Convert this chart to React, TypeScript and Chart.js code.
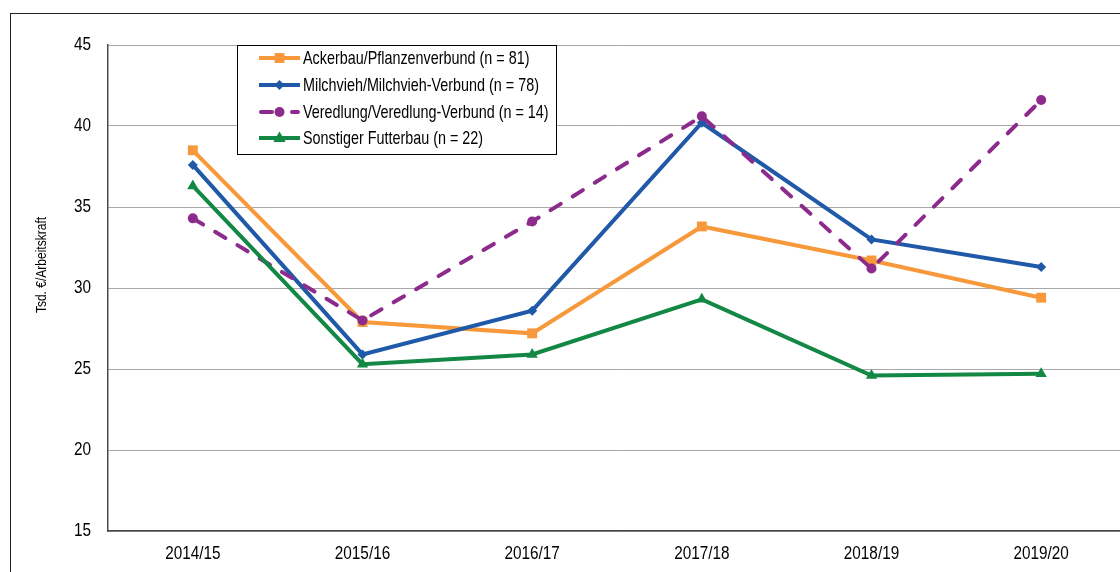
import React, { useEffect, useRef } from "react";
import { Chart, registerables } from "chart.js";
Chart.register(...registerables);

const categories = ["2014/15", "2015/16", "2016/17", "2017/18", "2018/19", "2019/20"];
const ackerbau = [38.5, 27.9, 27.2, 33.8, 31.7, 29.4];
const milchvieh = [37.6, 25.9, 28.6, 40.2, 33.0, 31.3];
const veredlung = [34.3, 28.0, 34.1, 40.6, 31.2, 41.6];
const futterbau = [36.3, 25.3, 25.9, 29.3, 24.6, 24.7];
const seriesLabels = [
  "Ackerbau/Pflanzenverbund (n = 81)",
  "Milchvieh/Milchvieh-Verbund (n = 78)",
  "Veredlung/Veredlung-Verbund (n = 14)",
  "Sonstiger Futterbau (n = 22)",
];
const yMin = 15;
const yMax = 45;
const yStep = 5;
const yTitle = "Tsd. €/Arbeitskraft";

const ORANGE = "#F7983A";
const BLUE = "#1F59A7";
const PURPLE = "#8C2B8B";
const GREEN = "#128844";
const FONT = "'Liberation Sans', Arial, sans-serif";
const NARROW = 0.82;

function narrowText(ctx: CanvasRenderingContext2D, text: string, x: number, y: number, align: CanvasTextAlign, size: number, rotate = 0, sx = NARROW) {
  ctx.save();
  ctx.translate(x, y);
  if (rotate) ctx.rotate(rotate);
  ctx.scale(sx, 1);
  ctx.font = `${size}px ${FONT}`;
  ctx.fillStyle = "#000000";
  ctx.textAlign = align;
  ctx.textBaseline = "middle";
  ctx.fillText(text, 0, 0);
  ctx.restore();
}

function drawMarker(ctx: CanvasRenderingContext2D, style: string, x: number, y: number, r: number, color: string) {
  ctx.save();
  ctx.fillStyle = color;
  ctx.beginPath();
  if (style === "rect") {
    const s = r * Math.SQRT1_2;
    ctx.rect(x - s, y - s, 2 * s, 2 * s);
  } else if (style === "rectRot") {
    ctx.moveTo(x, y - r);
    ctx.lineTo(x + r, y);
    ctx.lineTo(x, y + r);
    ctx.lineTo(x - r, y);
    ctx.closePath();
  } else if (style === "triangle") {
    ctx.moveTo(x, y - r);
    ctx.lineTo(x + r * 0.95, y + r * 0.6);
    ctx.lineTo(x - r * 0.95, y + r * 0.6);
    ctx.closePath();
  } else {
    ctx.arc(x, y, r, 0, Math.PI * 2);
  }
  ctx.fill();
  ctx.restore();
}

const textPlugin = {
  id: "narrowText",
  afterDatasetsDraw(chart: any) {
    const ctx = chart.ctx as CanvasRenderingContext2D;
    const bx = 237.5, by = 45.5, bw = 319, bh = 109;
    ctx.save();
    ctx.fillStyle = "#ffffff";
    ctx.fillRect(bx, by, bw, bh);
    ctx.strokeStyle = "#000000";
    ctx.lineWidth = 1;
    ctx.strokeRect(bx, by, bw, bh);
    const rows = [58, 85, 112, 138];
    const colors = [ORANGE, BLUE, PURPLE, GREEN];
    const styles = ["rect", "rectRot", "circle", "triangle"];
    const radii = [7, 5, 5, 6.5];
    rows.forEach((yy, i) => {
      ctx.strokeStyle = colors[i];
      ctx.lineWidth = 4;
      ctx.lineCap = i === 2 ? "round" : "butt";
      ctx.beginPath();
      if (i === 2) {
        ctx.moveTo(261, yy);
        ctx.lineTo(272, yy);
        ctx.moveTo(292, yy);
        ctx.lineTo(298, yy);
      } else {
        ctx.moveTo(259, yy);
        ctx.lineTo(300, yy);
      }
      ctx.stroke();
      drawMarker(ctx, styles[i], 279.5, yy, radii[i], colors[i]);
      narrowText(ctx, seriesLabels[i], 303, yy + 1, "left", 18.2, 0, 0.79);
    });
    ctx.restore();
  },
  afterDraw(chart: any) {
    const ctx = chart.ctx as CanvasRenderingContext2D;
    const ys = chart.scales.y;
    ys.ticks.forEach((t: any) => {
      narrowText(ctx, String(t.value), 91, ys.getPixelForValue(t.value), "right", 18.67);
    });
    const xs = chart.scales.x;
    categories.forEach((c, i) => {
      narrowText(ctx, c, xs.getPixelForTick(i), 554, "center", 18.67);
    });
    narrowText(ctx, yTitle, 42, 265, "center", 14.67, -Math.PI / 2);
  },
};

export default function App() {
  const ref = useRef<HTMLCanvasElement>(null);
  useEffect(() => {
    if (!ref.current) return;
    const common = { borderWidth: 4, pointBorderWidth: 0, tension: 0, fill: false };
    const chart = new Chart(ref.current, {
      type: "line",
      data: {
        labels: categories,
        datasets: [
          { ...common, label: seriesLabels[0], data: ackerbau, borderColor: ORANGE, backgroundColor: ORANGE, pointBackgroundColor: ORANGE, pointStyle: "rect", pointRadius: 7, order: 4 },
          { ...common, label: seriesLabels[1], data: milchvieh, borderColor: BLUE, backgroundColor: BLUE, pointBackgroundColor: BLUE, pointStyle: "rectRot", pointRadius: 5, order: 3 },
          { ...common, label: seriesLabels[2], data: veredlung, borderColor: PURPLE, backgroundColor: PURPLE, pointBackgroundColor: PURPLE, pointStyle: "circle", pointRadius: 5, borderDash: [12, 14], borderCapStyle: "round", order: 2 },
          { ...common, label: seriesLabels[3], data: futterbau, borderColor: GREEN, backgroundColor: GREEN, pointBackgroundColor: GREEN, pointStyle: "triangle", pointRadius: 6.5, order: 1 },
        ],
      } as any,
      options: {
        animation: false,
        responsive: false,
        devicePixelRatio: 1,
        layout: { padding: { left: 0, top: 45, right: 14, bottom: 0 } },
        plugins: { legend: { display: false }, tooltip: { enabled: false }, title: { display: false } },
        scales: {
          x: {
            type: "category",
            offset: true,
            grid: { display: false, drawTicks: false },
            border: { display: true, color: "#4a4a4a", width: 1.5 },
            ticks: { color: "rgba(0,0,0,0)", font: { family: FONT, size: 15 }, padding: 9, maxRotation: 0, autoSkip: false },
            afterFit: (s: any) => { s.height = 41; },
          },
          y: {
            min: yMin,
            max: yMax,
            ticks: { stepSize: yStep, color: "rgba(0,0,0,0)", font: { family: FONT, size: 15 }, padding: 17 },
            grid: { color: "#A8A8A8", lineWidth: 1, drawTicks: false },
            border: { display: true, color: "#4a4a4a", width: 1.5 },
            afterFit: (s: any) => { s.width = 108; },
          },
        },
      } as any,
      plugins: [textPlugin],
    });
    return () => chart.destroy();
  }, []);
  return (
    <div style={{ position: "fixed", left: 0, top: 0, width: 1120, height: 572, overflow: "hidden", background: "#fff" }}>
      <canvas ref={ref} width={1140} height={572} style={{ position: "absolute", left: 0, top: 0, width: 1140, height: 572 }} />
      <div style={{ position: "absolute", left: 10, top: 13, width: 1300, height: 800, border: "1.5px solid #222", boxSizing: "border-box", pointerEvents: "none" }} />
    </div>
  );
}
